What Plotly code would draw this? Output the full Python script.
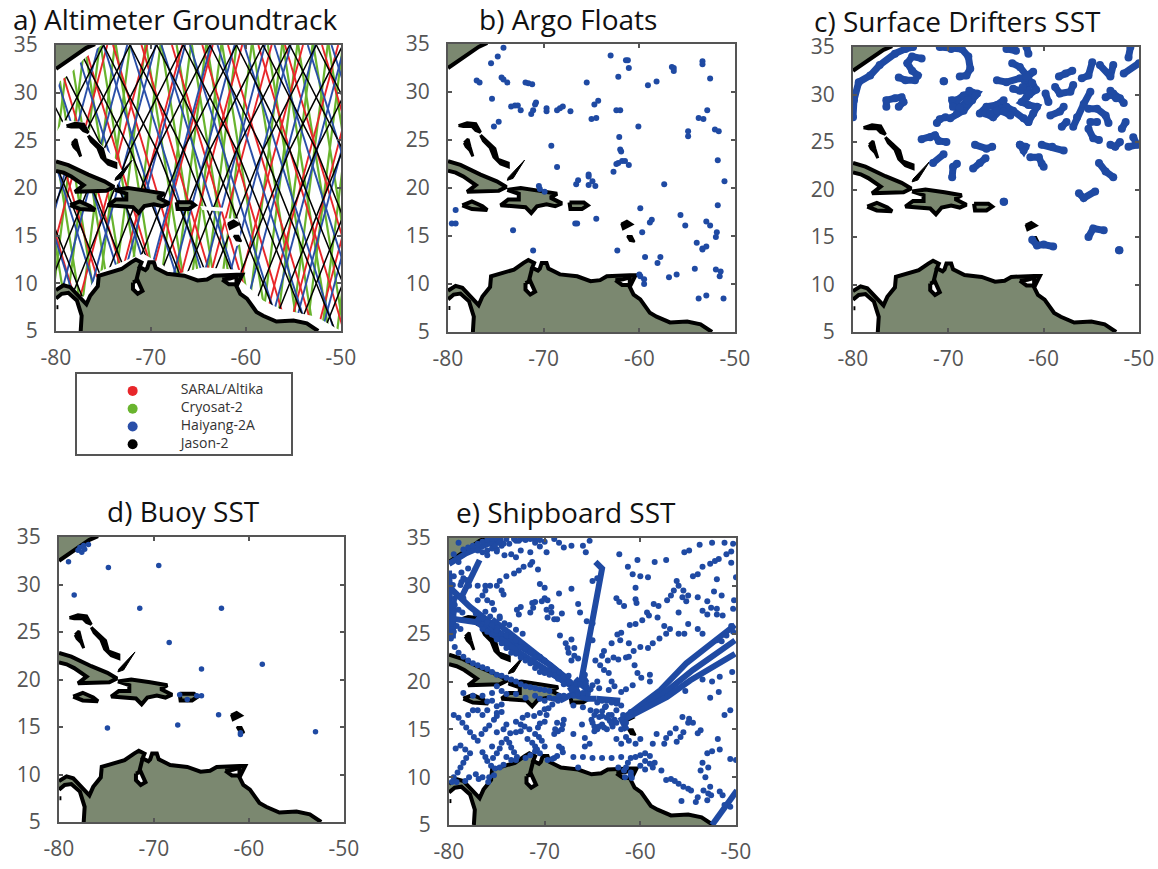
import plotly.graph_objects as go

W, H = 1158, 869
LAND = "#7b8870"
BLUE = "#1f4aa3"
FONT = "Open Sans"

# ---------- coast outlines (lon, lat) ----------
na_lon = [-80, -78.9, -77.8, -76.8, -75.9]
na_lat = [32.5, 33.3, 34.0, 34.7, 35.1]

sa_north_lon = [-80, -79.2, -78.5, -77.8, -77.1, -76.8, -76.4, -75.6, -75.5, -74.5, -73.1, -72.1, -71.6, -71.0, -71.2, -70.6, -70.4, -70.2, -69.7, -69.5, -68.3, -66.5, -65.1, -64.1, -63.4, -61.0, -60.4, -61.0, -60.6, -59.9, -58.9, -58.2, -56.8, -55.0, -53.6, -52.4]
sa_north_lat = [9.3, 9.8, 9.6, 8.9, 8.1, 7.8, 8.7, 9.7, 10.8, 11.1, 11.5, 12.2, 12.5, 12.2, 11.7, 11.4, 11.6, 12.2, 12.2, 11.6, 11.0, 10.8, 10.3, 10.4, 10.8, 10.9, 10.9, 9.7, 8.9, 8.4, 7.0, 6.6, 6.0, 6.1, 5.8, 5.0]
sa_west_lon = [-77.4, -77.3, -77.8, -78.7, -79.4, -80]
sa_west_lat = [5.0, 6.6, 8.2, 9.0, 8.9, 8.4]

cuba_lon = [-80, -78.7, -76.6, -74.9, -73.9, -74.7, -78.0, -77.1, -78.4, -79.2, -80]
cuba_lat = [22.8, 22.4, 21.4, 20.7, 20.1, 19.7, 19.6, 20.3, 21.2, 21.6, 21.8]
hisp_lon = [-73.8, -72.4, -70.4, -68.6, -69.3, -68.1, -68.8, -69.7, -70.7, -71.3, -71.9, -72.8, -74.5, -73.7, -72.6, -72.6, -73.8]
hisp_lat = [19.8, 20.0, 19.7, 19.4, 19.0, 18.4, 18.1, 18.3, 18.1, 17.4, 18.0, 18.1, 18.2, 18.8, 18.8, 19.4, 19.8]
jam_lon = [-78.5, -77.5, -76.4, -75.9, -77.5, -78.4, -78.5]
jam_lat = [18.2, 18.6, 18.1, 17.7, 17.8, 18.1, 18.2]
pr_lon = [-67.3, -65.8, -65.4, -66.0, -67.2, -67.3]
pr_lat = [18.5, 18.5, 18.2, 17.8, 17.8, 18.5]

# black blobs
gb_lon = [-78.9, -78.0, -77.1, -76.6, -77.1, -77.5, -78.4, -78.9]
gb_lat = [26.5, 26.8, 26.7, 25.8, 26.0, 26.4, 26.4, 26.5]
andros_lon = [-78.3, -77.9, -77.7, -77.4, -77.7, -78.1, -78.3]
andros_lat = [24.7, 25.1, 24.3, 23.3, 23.9, 24.3, 24.7]
chain_lon = [-76.6, -75.8, -75.1, -74.8, -73.7, -73.7, -74.5, -75.2, -75.6, -76.3, -76.6]
chain_lat = [25.5, 24.8, 24.1, 23.0, 22.6, 22.2, 22.5, 23.2, 24.2, 24.9, 25.5]
wedge_lon = [-73.8, -73.2, -72.0, -73.2, -73.7, -73.8]
wedge_lat = [20.8, 21.0, 22.9, 21.6, 21.1, 20.8]
guad_lon = [-61.9, -61.3, -60.7, -61.7, -61.9]
guad_lat = [16.3, 16.6, 16.2, 15.7, 16.3]
mart_lon = [-61.3, -60.8, -60.5, -61.0, -61.3]
mart_lat = [15.0, 15.0, 14.4, 14.5, 15.0]
dot_lon = [-79.95, -79.75]
dot_lat = [7.5, 7.5]

lake_lon = [-71.9, -71.4, -70.9, -71.4, -71.9, -71.9]
lake_lat = [10.1, 10.3, 9.2, 8.9, 9.4, 10.1]
channel_lon = [-71.2, -71.6]
channel_lat = [11.7, 10.1]
paria_lon = [-62.5, -61.7, -61.0, -61.0, -61.8, -62.5]
paria_lat = [10.4, 10.5, 10.7, 9.9, 9.9, 10.4]

# ---------- a) altimeter tracks: longitude at latitudes 35 / 24 / 5 ----------
TRACK_LAT = [35, 24, 5]
jason_asc_35 = [-77.8, -75.0, -72.2, -69.4, -66.6, -63.8, -61.0, -58.2, -55.4, -52.6, -49.8, -47.0, -44.2, -41.4, -38.6]
jason_asc_24 = [-83.4, -80.6, -77.8, -75.0, -72.2, -69.4, -66.6, -63.8, -61.0, -58.2, -55.4, -52.6, -49.8, -47.0, -44.2]
jason_asc_05 = [-91.0, -88.2, -85.4, -82.6, -79.8, -77.0, -74.2, -71.4, -68.6, -65.8, -63.0, -60.2, -57.4, -54.6, -51.8]
jason_dsc_35 = [-91.8, -89.0, -86.2, -83.4, -80.6, -77.8, -75.0, -72.2, -69.4, -66.6, -63.8, -61.0, -58.2, -55.4, -52.6, -49.8]
jason_dsc_24 = [-86.2, -83.4, -80.6, -77.8, -75.0, -72.2, -69.4, -66.6, -63.8, -61.0, -58.2, -55.4, -52.6, -49.8, -47.0, -44.2]
jason_dsc_05 = [-78.6, -75.8, -73.0, -70.2, -67.4, -64.6, -61.8, -59.0, -56.2, -53.4, -50.6, -47.8, -45.0, -42.2, -39.4, -36.6]

# red / blue / green: longitude at 35 and at 5
saral_dsc_35 = [-89.0, -86.0, -83.0, -80.2, -77.0, -74.0, -71.0, -67.8, -64.6, -61.9, -58.7, -55.9, -52.0]
saral_dsc_05 = [-80.0, -77.0, -74.0, -71.2, -68.0, -65.0, -62.0, -58.8, -55.6, -52.9, -49.7, -46.9, -43.0]
saral_asc_35 = [-74.6, -70.4, -66.7, -63.5, -60.4, -57.3, -54.0, -50.3, -47.5, -44.5, -41.5]
saral_asc_05 = [-82.6, -78.4, -74.7, -71.5, -68.4, -65.3, -62.0, -58.3, -55.5, -52.5, -49.5]
hy_dsc_35 = [-89.0, -86.5, -84.0, -81.0, -78.0, -75.0, -72.2, -68.9, -65.9, -63.0, -60.2, -57.0, -53.5, -51.0]
hy_dsc_05 = [-79.5, -77.0, -74.5, -71.5, -68.5, -65.5, -62.7, -59.4, -56.4, -53.5, -50.7, -47.5, -44.0, -41.5]
hy_asc_35 = [-75.5, -72.5, -69.5, -66.4, -63.7, -61.2, -58.0, -55.3, -52.7, -49.6, -47.0, -44.0, -41.5]
hy_asc_05 = [-83.5, -80.5, -77.5, -74.4, -71.7, -69.2, -66.0, -63.3, -60.7, -57.6, -55.0, -52.0, -49.5]
cryo_dsc_35 = [-85.0, -83.4, -81.8, -80.2, -78.6, -77.0, -75.3, -73.7, -70.5, -68.9, -67.3, -65.7, -64.1, -62.5, -59.3, -57.7, -56.1, -54.5, -52.9, -51.3]
cryo_dsc_05 = [-80.2, -78.6, -77.0, -75.4, -73.8, -72.2, -70.5, -68.9, -65.7, -64.1, -62.5, -60.9, -59.3, -57.7, -54.5, -52.9, -51.3, -49.7, -48.1, -46.5]
cryo_asc_35 = [-78.6, -77.0, -75.4, -73.8, -72.2, -70.6, -69.0, -65.8, -64.2, -62.6, -61.0, -59.4, -56.2, -54.6, -53.0, -51.4, -49.8, -48.2, -46.6]
cryo_asc_05 = [-82.4, -80.8, -79.2, -77.6, -76.0, -74.4, -72.8, -69.6, -68.0, -66.4, -64.8, -63.2, -60.0, -58.4, -56.8, -55.2, -53.6, -52.0, -50.4]

# coastal data-free zones around the land in panel a
mask_na_lon = [-80, -75.2, -77.0, -78.5, -79.6, -80]
mask_na_lat = [35, 35, 33.6, 32.0, 31.2, 30.0]
mask_bah_lon = [-80, -79.2, -77.1, -75.7, -73.6, -72.9, -73.8, -80]
mask_bah_lat = [25.8, 27.1, 26.9, 25.0, 22.9, 21.5, 19.9, 22.5]
mask_sa_lon = [-80, -77.1, -75.3, -71.8, -70.8, -68.7, -68.0, -64.5, -60.6, -60.5, -58.2, -56.4, -52.6, -50, -80]
mask_sa_lat = [9.3, 8.6, 11.3, 12.75, 13.1, 11.9, 10.8, 11.7, 11.4, 10.3, 8.2, 7.3, 6.5, 5, 5]
mask_pr_lon = [-64.8, -62.0, -62.1, -64.6]
mask_pr_lat = [18.1, 17.9, 17.5, 17.7]
mask_la_lon = [-62.2, -60.8, -60.5, -61.0, -61.8]
mask_la_lat = [16.8, 16.8, 14.2, 13.9, 15.0]

# ---------- b) Argo ----------
argo_lon = [-74.2,-74.8,-75.5,-77.0,-76.7,-74.4,-74.2,-73.8,-71.9,-71.6,-71.2,-75.4,-73.4,-73.0,-72.7,-72.4,-71.3,-71.1,-70.9,-70.8,-69.7,-69.7,-68.6,-68.3,-68.0,-67.2,-65.0,-64.5,-64.7,-64.3,-65.5,-63.0,-61.4,-61.2,-61.1,-62.2,-62.4,-62.0,-59.1,-58.2,-56.6,-56.4,-56.4,-53.4,-53.4,-52.6,-52.9,-53.8,-53.3,-60.1,-62.1,-62.0,-61.9,-54.9,-54.9,-52.1,-51.7,-69.2,-74.7,-75.2,-68.6,-62.7,-62.2,-61.8,-61.5,-61.1,-62.4,-51.8,-65.3,-65.3,-66.4,-66.6,-65.3,-64.9,-64.6,-70.5,-70.4,-69.9,-57.4,-51.1,-51.8,-79.2,-79.6,-79.2,-66.7,-66.5,-64.5,-59.9,-59.7,-58.9,-58.7,-55.7,-55.2,-53.0,-52.6,-51.9,-52.0,-73.2,-71.1,-62.3,-54.0,-53.4,-53.4,-53.0,-59.4,-57.8,-58.1,-56.9,-56.1,-54.2,-52.0,-51.5,-51.6,-60.0,-59.9,-59.5,-59.5,-53.8,-53.0,-51.2]
argo_lat = [34.6,33.7,33.0,31.2,31.0,31.5,31.3,31.0,31.0,30.9,30.8,29.3,28.5,28.6,28.6,28.1,27.7,28.1,28.7,28.9,28.3,28.0,28.1,28.3,28.5,28.0,27.2,27.3,28.7,29.1,31.0,33.8,33.3,33.3,32.5,31.6,28.1,28.1,30.7,31.1,32.6,32.5,32.2,33.2,32.9,31.4,28.1,27.3,27.2,26.4,25.3,24.0,23.8,25.9,25.4,26.1,25.9,24.4,26.9,26.4,22.2,21.7,22.6,22.8,22.8,22.4,22.5,22.9,21.4,21.2,20.8,20.4,20.3,20.7,20.2,20.2,19.9,19.6,20.4,20.7,18.2,17.7,16.3,16.3,16.3,16.3,16.8,17.9,15.4,16.4,16.7,17.2,16.1,16.5,16.1,15.4,14.9,15.6,13.5,13.5,14.3,13.7,13.6,13.9,12.8,12.8,12.2,10.7,11.0,11.6,11.5,11.3,10.8,11.0,10.8,10.5,10.0,8.5,8.8,8.5]

# ---------- c) drifters: one [lons], [lats] pair per drifter ----------
drifter_lon = [
 [-80,-79.9,-79.4,-78.2,-77.2,-75.6,-74.5,-73.7],
 [-72.8,-73.8,-74.3,-73.8,-73.2,-73.5,-74.5,-75.2],
 [-76.5,-76.5,-75.6,-74.9,-74.7,-75.2],
 [-70.5,-70.45],
 [-71.2,-70.9,-70.3],
 [-69.8,-69.1,-68.4,-67.5,-67.0,-67.5,-68.4,-69.1,-69.6,-69.5,-68.6,-68.1],
 [-66.7,-66.0,-64.9,-64.2,-64.4,-65.3,-66.1],
 [-64.4,-63.9,-63.2,-62.1,-61.6],
 [-61.6,-61.1,-60.7,-61.6,-62.3,-61.8],
 [-70.9,-69.7,-68.6,-67.9,-67.7,-68.1,-68.8],
 [-63.9,-62.9],
 [-61.8,-61.6],
 [-63.3,-62.5,-61.8,-61.1,-62.0,-61.6,-62.5,-63.2],
 [-64.9,-63.9,-62.5],
 [-59.8,-59.5],
 [-59.3,-58.3,-57.9],
 [-58.4,-57.7,-57.0],
 [-58.8,-58.3,-57.2,-56.9],
 [-56.0,-55.3,-54.9],
 [-54.1,-53.0,-52.7],
 [-51.6,-50.0],
 [-50.9,-51.1],
 [-56.9,-56.5,-55.8,-55.1],
 [-58.1,-57.6],
 [-53.5,-52.7,-52.0,-51.6],
 [-55.3,-54.4,-53.5,-53.2],
 [-55.1,-54.4],
 [-55.3,-54.8,-54.2],
 [-51.8,-51.4],
 [-53.0,-52.5,-52.0],
 [-50.6,-50.2,-51.1],
 [-72.8,-71.9,-71.4,-71.0,-70.2],
 [-71.6,-70.5],
 [-69.6,-69.5,-69.1],
 [-67.4,-66.7,-66.1],
 [-67.2,-66.0,-65.4],
 [-62.5,-61.9,-62.1,-62.5],
 [-61.4,-60.5,-60.2,-60.0],
 [-60.2,-59.1,-57.9],
 [-54.2,-53.5,-52.7],
 [-56.3,-55.8,-54.6],
 [-55.3,-54.8,-53.7],
 [-64.2,-64.15],
 [-52.1,-52.05],
 [-61.2,-60.7,-60.0,-59.0],
 [-61.8,-61.2,-60.8,-61.5,-62.2],
 [-68.8,-68.0,-67.2,-67.8],
 [-65.6,-64.9,-64.2,-63.5],
 [-52.9,-52.4,-53.0],
]
drifter_lat = [
 [27.6,29.4,31.3,32.0,33.1,34.3,34.8,35.0],
 [33.8,34.0,33.3,32.5,32.0,31.5,31.5,31.8],
 [28.7,29.4,29.6,29.7,29.2,28.7],
 [31.4,31.4],
 [27.0,27.4,27.6],
 [27.5,28.0,28.3,29.4,30.1,30.2,29.9,29.4,29.4,28.7,28.7,29.0],
 [28.0,28.7,28.9,29.4,28.5,27.6,28.0],
 [28.5,28.7,28.3,27.5,27.1],
 [27.1,28.0,28.7,28.9,29.2,29.7],
 [35.0,34.8,34.8,34.0,32.7,32.0,31.9],
 [34.8,34.6],
 [35.0,34.3],
 [33.3,32.9,32.0,32.4,31.5,30.4,30.4,30.6],
 [31.5,31.3,31.7],
 [30.1,29.2],
 [27.8,28.2,28.7],
 [31.9,32.2,32.5],
 [30.8,30.1,30.3,31.0],
 [31.7,32.0,33.4],
 [33.1,31.9,33.1],
 [32.2,33.3],
 [35.0,33.9],
 [26.6,27.6,29.0,30.3],
 [26.6,27.1],
 [29.7,30.1,29.6,29.1],
 [28.5,28.5,27.8,27.0],
 [27.1,27.1],
 [26.4,25.4,25.2],
 [26.4,27.1],
 [24.7,24.5,25.0],
 [25.5,24.7,24.5],
 [25.3,25.5,25.7,25.1,25.0],
 [22.8,23.7],
 [21.3,22.4,22.7],
 [22.2,22.8,23.3],
 [24.7,24.3,24.5],
 [24.7,24.5,24.1,24.7],
 [23.4,23.4,22.7,22.4],
 [24.7,24.5,24.1],
 [22.8,21.9,21.3],
 [19.6,19.1,19.8],
 [15.0,15.9,15.7],
 [18.7,18.7],
 [13.6,13.6],
 [14.7,14.1,14.2,14.0],
 [31.8,31.2,30.5,30.0,30.8],
 [28.6,29.4,29.9,30.4],
 [28.0,28.3,28.2,27.8],
 [30.0,29.6,30.4],
]

# ---------- d) buoys ----------
buoy_lon = [-79.0,-78.4,-74.8,-69.5,-71.5,-62.9,-68.4,-65.0,-58.6,-67.3,-66.5,-65.5,-65.0,-63.2,-67.5,-74.9,-60.9,-60.9,-53.0,-78.0,-77.6,-77.8,-77.4,-76.9,-77.3]
buoy_lat = [32.4,28.9,31.8,32.0,27.5,27.5,23.9,21.1,21.6,18.4,17.9,18.3,18.3,16.3,15.2,14.9,14.2,14.4,14.5,33.6,33.4,33.9,34.1,34.2,33.7]

# ---------- e) shipboard: dense lanes + isolated reports ----------
lane_lon = [
 [-66.3,-64.0,-64.7],
 [-79.9,-77.1,-73.6,-70.5,-67.0],
 [-77.1,-73.3,-69.4,-66.7],
 [-75.5,-72.0,-67.5],
 [-76.0,-72.5,-68.0],
 [-62.0,-57.9,-55.2,-50.1],
 [-62.0,-57.6,-54.5,-50.1],
 [-61.8,-57.2,-54.8,-50.1],
 [-52.5,-49.9],
 [-80.0,-79.9,-80.0,-80.0],
 [-79.6,-79.5],
 [-78.7,-76.8],
 [-80.0,-78.2,-75.9,-74.3],
 [-80.0,-77.8,-74.7],
 [-68.4,-66.3],
 [-64.6,-62.1],
 [-62.1,-61.4],
 [-67.0,-65.5,-64.6],
 [-67.5,-65.5],
 [-66.8,-65.2],
]
lane_lat = [
 [19.4,31.8,32.5],
 [26.6,26.2,23.6,21.7,19.4],
 [26.8,24.1,21.7,19.4],
 [26.5,23.8,20.2],
 [25.6,22.9,20.0],
 [16.0,19.1,21.9,25.9],
 [16.0,18.7,21.2,24.3],
 [16.0,18.4,20.1,22.9],
 [5.0,8.6],
 [31.6,29.5,27.1,24.6],
 [24.5,28.5],
 [28.8,32.7],
 [32.3,33.4,34.4,34.8],
 [29.9,27.8,25.4],
 [18.0,19.1],
 [18.2,18.0],
 [16.3,14.9],
 [18.6,18.2,18.2],
 [19.0,20.3],
 [20.3,18.8],
]
ship_lon = [-72,-71,-70,-69,-68.5,-68,-67.2,-66,-65.3,-65.7,-70.5,-69.8,-71.5,-72.5,-73,-73.5,-74.2,-71.3,-70.7,-71.5,-72.2,-72.7,-73.2,-74,-74.7,-75,-74.5,-74.3,-75.7,-76.2,-77,-76.2,-76.5,-77,-76,-75.5,-75.3,-74.7,-70.5,-70,-70,-70.3,-71,-71.3,-71.5,-71.2,-69.7,-69.3,-69.8,-69.7,-69,-68.7,-69.3,-72.5,-72.9,-72.7,-68.5,-67.2,-68.2,-66.5,-66.3,-65.6,-65,-68.4,-67.8,-67.6,-67.2,-66.9,-67.5,-66.9,-67.2,-66.5,-65,-64.5,
 -62.2,-60.3,-58.5,-57.3,-61.3,-60.8,-60,-59.2,-60.5,-60.5,-60.4,-62.5,-62.2,-61.7,-58.6,-58.1,-59.3,-59.1,-59.8,-60.5,-61.1,-58.2,-57.5,-56.9,-57.3,-58,-58.7,-59.2,-60,-60.7,-61.2,-62.1,-62.4,-62,-63,-63.8,-64,-63.4,-62.8,-62.3,-61.5,-61.2,-60.6,-65,-64.7,-64.2,-63.8,-63.3,-63,-64.5,-65,-64.3,-63.3,-62.7,-62,-61.5,-60.8,-59.9,-59,-60.3,-59,
 -55.4,-54.9,-53.8,-52.5,-51.2,-50.3,-50.5,-51,-50.5,-51.8,-52.2,-52.7,-53.5,-54,-54.5,-52,-50,-56.2,-56,-56.5,-55.5,-55,-56.8,-57.2,-55.6,-55.2,-54,-53,-52.3,-51.5,-50.2,-50.3,-53.5,-52.6,-52,-52,-51.4,-53,-56,-55,-54,-53.5,-55.4,-56,-52,-51.5,-51,-50.5,-50.3,-50.4,-51.7,-52.5,-53.5,-55.3,-51.8,-52.7,-50.6,-51.2,-55.6,-54.9,-55,-54.5,-56.3,-53.7,-54,-55.5,-55.8,-56.2,-56.9,-57.3,-57.5,-58.3,-51.9,-52.5,-53,-51.7,-50.6,-50,-53.5,-52.9,-53.7,-53.2,
 -56.8,-56.4,-56,-55.5,-55,-54.7,-52.7,-53.4,-52.9,-52.6,-54.2,-54,-53,-51.7,-51.4,-50.6,-51.2,-55.7,
 -79.5,-79,-78.6,-78.2,-77.8,-77.4,-77,-76.6,-76.2,-75.8,-75.3,-75,-77.8,-78.2,-78.5,-78.8,-79.1,-79.7,-79.5,-79.2,-78.3,-77.9,-76.5,-76.2,-76,-75.6,-75.2,-75.4,-75,-74.7,-74.5,-74,-73.7,-73.5,-73.2,-72.9,-74.3,-75,-75.5,-74,-73.5,-73,-72,-71.5,-71,-70.5,-76.5,-76.9,-77.2,-75.8,-75.9,-75.3,-74.7,-74.3,-76,-76.5,-77,-77.5,-78,-76,-75.5,-75,-74.5,-74.5,-75,
 -74,-73,-72.5,-72.1,-71.6,-71,-70.6,-70.3,-70,-72.5,-73,-73.6,-71.8,-71.3,-71,-70.8,-72.3,-71.8,-71.1,-70.5,-70,-69.6,-69.2,-68.6,-69.8,-70,-70.5,-70.7,-69,-68.6,-68.2,-68.1,-68,-68.7,-68.9,-68.5,-68.2,-68.1,-68.7,-69,-69.2,-69.7,
 -67,-66,-65,-64,-66.5,-65.8,-65.3,-65.8,-64.8,-67,-66.1,-65.1,-64.8,-64.5,-64,-64.3,-65.2,-66,-67,-64.6,-64,-63.6,-63.3,-62.7,-62,-62.9,-63.5,-63.2,-62.5,-62,-61.5,-61.2,-60.5,-60,-60,-59.5,-59,-59.5,-60,-58.7,-58.5,-59,-59.5,-60.5,-61,-61.3,-61.5,-61.7,-61,-61.6,-60.9,-61,-63,-62,-62.3,-57.8,-57.3,-58.7,-78.8,-78.3,-79.3,
 -79.8,-79.4,-79,-78.5,-78,-77.5,-77,-76.5,-76,-75.5,-75,-74.5,-74,-73.5,-73,-72.5,-72,-71.5,-71,-70.5,-70,-69.5,-78.5,-77.5,-76.5,-75.5,-75,-74.5,-74,-73,-72,-71,-70.5,-70,-69.5,-69,-68.5,-68,
 -77.2,-76.7,-76.2,-75.7,-75.2,-74.7,-74.2,-73.7,-73,-72.3,-78.5,-78,-77,-76,-75,-79,-79.5,-78.7,-74.5,-74,-73,-72.5,-71.5,-71,-70.5,
 -76.5,-76,-75.5,-75,-74.5,-74,-73.5,-73,-72.5,-72,-71.5,-71,-70.5,-70,-69.5,-69,-68.5,-68,-67.5,-67.5,-68,-68.6,-69.5,-70,-70.5,-71,-71.5,-72,-72.5,-73,-73.5,-74,-74.5,-75,-75.5,-76,-76.5,
 -78.5,-78,-77.5,-77,-76.5,-76,-75.5,-75,-74.5,-74.3,-75,-75.5,-76,-76.5,-74.8,-75.2,-73.7,-73.2,-72.7,-79,-78.7,-78.2,-77.9,-79.5,-79.6,-78.8,-78.5,-79.4,-79,-79.5,-78.6,-79.6,-79.2,-78.8,-79.5,-79.7,-79.4,
 -67,-66.5,-66.7,-66,-65.7,-65.2,-65.5,-66,-66.3,-65.8,-65.6,-62,-62.5,-63,-63.5,-64,-61.5,-61.8,-61,
 -64.5,-63.7,-63,-62.5,-64,-63.5,-64.8,-65,-64.3,-63.8,-63,-62.5]
ship_lat = [34.8,34.8,34.6,34.9,34.5,34,34.2,34.2,34.7,33.5,34.1,33.5,33.5,33.7,33,33.3,33.2,32.5,31.7,32.2,32,31.6,31.3,31,30.5,30,29.5,29.1,30,30,30,29.5,29,28.5,28.5,28.2,27.5,26.8,30.2,29.8,28.7,28.4,28.3,28.2,27.2,27.7,28.5,27.8,27.5,26.7,26.5,26.5,27.2,27.8,27.5,27,29.2,29.7,27.1,28.1,27.2,26.3,26.1,24.8,24,23.5,24.4,23.5,23,22.7,22.2,22.4,30.5,30.8,
 33.3,32.7,32.5,32.7,32,31.2,31,30.9,29.8,28.6,28.2,28.7,28.3,27.9,28.1,27.9,27.2,26.9,26.4,26,25.9,26.7,25.8,25.5,25,24.5,24,23.5,23.6,23.2,24,24.3,24.9,25.1,24,23.2,22.7,22.2,22.5,22.3,22.5,22.6,21.7,24.3,22.2,21.7,21.2,20.9,20,20,19.6,19.3,19.1,19.5,18.9,19.2,19.6,20.4,20.7,20.9,20,
 33.5,33.7,34.3,34.5,34.5,34.4,33.6,33.3,32.4,32.8,32.6,32.3,32,31.2,31,30.7,30.9,30.5,30,29.5,29.5,29,29,28.5,28.8,28.4,28.8,28.4,29.4,29,28.5,27.6,27.4,27.7,27.6,27,26.9,27,27.2,26,25.5,25,25,25,24.3,24.2,24.8,25.8,25.2,21,20.5,20,20.2,19,18.9,18.3,17,16.5,16.3,16.1,15.7,15.7,15.1,14.9,14.6,14.7,14.2,13.7,14.6,14.1,13.5,14.5,14,12.7,12.5,12.9,11.9,11.8,11.5,11,10.7,10,
 9.8,9.6,9.3,9,8.8,8.6,9,8.6,8.3,8.1,7.4,7.9,7.6,8.5,8.1,6.9,7.1,7.5,
 16.5,16.2,15.7,15.2,14.7,14.2,13.8,14.5,15,15.4,16,16.4,12.5,12,11.5,11,10.5,9.5,10,9.5,9.6,10,12.6,12.1,11.7,11.2,10.9,12,12.5,13,13.6,14,13.6,13.1,12.6,12.1,15,14.7,13.2,12.1,11.8,11.8,12,12.3,12.7,12.5,10,9.8,10.3,10,9.5,10.2,11,11.3,17,16.5,17,17,16.5,17.9,18,17.4,17.6,16.8,16.7,
 15.5,15.8,15.5,15.3,15,14.5,14.2,13.8,13.2,14.8,14.7,14.6,14,13.6,13.2,12.9,16.2,16.5,16.4,16.7,17.1,17.2,17.6,18,16.5,15.8,15.6,15.2,14.5,14.8,15,15.5,16,15.7,15,13.2,13,12.6,12.2,12,11.9,11.8,
 12.1,12.1,12,12,11,13.2,13.5,14.1,14.8,14.5,15.5,16,15.3,15,15.5,16.3,17,17.3,17.5,16.9,16.9,17.4,16.5,16,15,15.3,15,15.9,14,13.5,14.2,13.8,13.5,14,12.3,12.5,12.2,11.7,11.2,11,11.5,11.4,10.8,12.1,12,11.5,11,10.7,10.5,10,9.9,10.2,12,12.1,11,10.7,9.7,13.5,13.3,12.9,13,
 24.5,23.6,23,22.6,22.2,21.9,21.7,21.5,21.3,21,20.7,20.6,20.4,20.2,20,19.7,19.5,19.4,19.3,19.2,19.1,19,18.8,18.5,18.5,18.8,19.5,19,18.7,18.7,18.3,18.5,18.2,18,18.3,18.2,18.5,18.5,
 27.1,26.6,27.3,26.8,26.2,26.6,26.1,25.9,25.4,25.0,30.8,31.8,33.7,33.2,33.6,34.5,33.3,30.4,34.4,34.9,34.7,34.9,34.9,34.5,34.8,
 26.6,26.2,25.9,25.3,25,24.8,24.7,24.3,23.6,23.4,23.1,22.5,22.6,22.2,21.2,21.2,21,20.5,20.6,19.9,19.7,20.3,20.7,20.9,21,21.4,21.9,22.2,22.5,22.9,23,23.5,24,24.4,24.9,25.2,25.5,
 33.8,34,34.2,34.4,34.6,34.8,34.9,34.9,34.2,34.4,33.8,33.9,33.7,33.5,34.5,34.2,34.4,34.9,34.7,32.5,31.4,30.6,30,31,30.1,30.1,28.7,28.7,27.5,27.3,27.2,26,25.8,25.5,25.2,24.8,28,
 18.5,18.7,19.8,20.2,19.8,19.2,18.7,18.8,19.7,20.7,19.4,17.5,17.7,17.8,18,18,15.7,16.5,16.8,
 17.8,17.3,16.5,17,16.4,16.2,16.5,15.7,15.3,15.2,15.6,15.7]

tick_x = [-80, -70, -60, -50]
tick_x_text = ["-80", "-70", "-60", "-50"]
tick_y = [5, 10, 15, 20, 25, 30, 35]

legend_names = ["SARAL/Altika", "Cryosat-2", "Haiyang-2A", "Jason-2"]
legend_colors = ["#e8262a", "#69b42e", "#2a4fa8", "#000000"]
legend_rows = [3.55, 2.55, 1.55, 0.55]

titles = ["a) Altimeter Groundtrack", "b) Argo Floats", "c) Surface Drifters SST", "d) Buoy SST", "e) Shipboard SST"]

# pixel layout
panels = [(56, 341, 45, 331), (448, 735, 44, 332), (853, 1139, 47, 332), (59, 344, 537, 822), (449, 736, 538, 825)]
title_pos = [(175, 19), (568, 19), (957, 21), (183, 511), (566, 512)]
legend_box = (77, 291, 374, 454)


def join(lon_lists, lat_lists):
    xs, ys = [], []
    for a, b in zip(lon_lists, lat_lists):
        xs += list(a) + [None]
        ys += list(b) + [None]
    return xs, ys


def add_coast(fig, ax, ay):
    kw = dict(xaxis=ax, yaxis=ay, hoverinfo="skip", showlegend=False)
    for lons, lats in [(na_lon + [-80], na_lat + [35]),
                       (sa_north_lon + sa_west_lon, sa_north_lat + sa_west_lat),
                       (cuba_lon, cuba_lat), (hisp_lon, hisp_lat), (jam_lon, jam_lat), (pr_lon, pr_lat)]:
        fig.add_trace(go.Scatter(x=lons, y=lats, fill="toself", fillcolor=LAND, mode="none", **kw))
    for lons, lats in [(lake_lon, lake_lat), (paria_lon, paria_lat)]:
        fig.add_trace(go.Scatter(x=lons, y=lats, fill="toself", fillcolor="white", mode="none", **kw))
    for lons, lats, wd in [(gb_lon, gb_lat, 3), (andros_lon, andros_lat, 3), (chain_lon, chain_lat, 3),
                           (wedge_lon, wedge_lat, 1), (guad_lon, guad_lat, 2), (mart_lon, mart_lat, 2)]:
        fig.add_trace(go.Scatter(x=lons, y=lats, fill="toself", fillcolor="black", mode="lines",
                                 line=dict(color="black", width=wd), **kw))
    xs, ys = join([na_lon, sa_north_lon, sa_west_lon, cuba_lon, hisp_lon, jam_lon, pr_lon, lake_lon, channel_lon, paria_lon, dot_lon],
                  [na_lat, sa_north_lat, sa_west_lat, cuba_lat, hisp_lat, jam_lat, pr_lat, lake_lat, channel_lat, paria_lat, dot_lat])
    fig.add_trace(go.Scatter(x=xs, y=ys, mode="lines", line=dict(color="black", width=4), **kw))


fig = go.Figure()

def tracks3(a, b, c):
    xs, ys = [], []
    for p, q, r in zip(a, b, c):
        xs += [p, q, r, None]
        ys += TRACK_LAT + [None]
    return xs, ys

def tracks2(a, c):
    xs, ys = [], []
    for p, r in zip(a, c):
        xs += [p, r, None]
        ys += [35, 5, None]
    return xs, ys

for name, col, wd, sets in [("Cryosat-2", legend_colors[1], 2.2, [(cryo_dsc_35, cryo_dsc_05), (cryo_asc_35, cryo_asc_05)]),
                            ("SARAL/Altika", legend_colors[0], 1.9, [(saral_dsc_35, saral_dsc_05), (saral_asc_35, saral_asc_05)]),
                            ("Haiyang-2A", legend_colors[2], 1.9, [(hy_dsc_35, hy_dsc_05), (hy_asc_35, hy_asc_05)])]:
    xs, ys = [], []
    for a, c in sets:
        u, v = tracks2(a, c)
        xs += u
        ys += v
    fig.add_trace(go.Scatter(x=xs, y=ys, mode="lines", line=dict(color=col, width=wd), name=name,
                             showlegend=False, xaxis="x", yaxis="y"))
xs, ys = tracks3(jason_asc_35, jason_asc_24, jason_asc_05)
u, v = tracks3(jason_dsc_35, jason_dsc_24, jason_dsc_05)
fig.add_trace(go.Scatter(x=xs + u, y=ys + v, mode="lines", line=dict(color="black", width=1.5), name="Jason-2",
                         showlegend=False, xaxis="x", yaxis="y"))
for lons, lats in [(mask_na_lon, mask_na_lat), (mask_bah_lon, mask_bah_lat), (mask_sa_lon, mask_sa_lat),
                   (mask_pr_lon, mask_pr_lat), (mask_la_lon, mask_la_lat)]:
    fig.add_trace(go.Scatter(x=lons, y=lats, fill="toself", fillcolor="white", mode="none", hoverinfo="skip",
                             showlegend=False, xaxis="x", yaxis="y"))
add_coast(fig, "x", "y")

add_coast(fig, "x2", "y2")
fig.add_trace(go.Scatter(x=argo_lon, y=argo_lat, mode="markers", marker=dict(color=BLUE, size=6), name="Argo",
                         showlegend=False, xaxis="x2", yaxis="y2"))
add_coast(fig, "x3", "y3")
xs, ys = join(drifter_lon, drifter_lat)
fig.add_trace(go.Scatter(x=xs, y=ys, mode="lines+markers", line=dict(color=BLUE, width=7), marker=dict(color=BLUE, size=8),
                         name="Drifters", showlegend=False, xaxis="x3", yaxis="y3"))
add_coast(fig, "x4", "y4")
fig.add_trace(go.Scatter(x=buoy_lon, y=buoy_lat, mode="markers", marker=dict(color=BLUE, size=5.5), name="Buoy",
                         showlegend=False, xaxis="x4", yaxis="y4"))
add_coast(fig, "x5", "y5")
xs, ys = join(lane_lon, lane_lat)
fig.add_trace(go.Scatter(x=xs, y=ys, mode="lines", line=dict(color=BLUE, width=6), name="Lanes",
                         showlegend=False, xaxis="x5", yaxis="y5"))
fig.add_trace(go.Scatter(x=ship_lon, y=ship_lat, mode="markers", marker=dict(color=BLUE, size=6), name="Ship",
                         showlegend=False, xaxis="x5", yaxis="y5"))

for nm, col, row in zip(legend_names, legend_colors, legend_rows):
    fig.add_trace(go.Scatter(x=[0.26], y=[row], mode="markers", marker=dict(color=col, size=10), name=nm,
                             showlegend=False, xaxis="x6", yaxis="y6"))
    fig.add_trace(go.Scatter(x=[0.485], y=[row], mode="text", text=[nm], textposition="middle right",
                             textfont=dict(family=FONT, size=14, color="#333333"), hoverinfo="skip",
                             showlegend=False, xaxis="x6", yaxis="y6"))

layout = dict(width=W, height=H, margin=dict(l=0, r=0, t=0, b=0, autoexpand=False), paper_bgcolor="white", plot_bgcolor="white",
              font=dict(family=FONT, color="#555555"), showlegend=False)
annotations = []
for i, (p, t, tp) in enumerate(zip(panels, titles, title_pos)):
    L, R, T, B = p
    sfx = "" if i == 0 else str(i + 1)
    common = dict(showgrid=False, zeroline=False, showline=True, mirror="ticks", linecolor="#555555", linewidth=2,
                  ticks="inside", ticklen=4, tickwidth=1.5, tickcolor="#555555", automargin=False,
                  tickfont=dict(family=FONT, size=21, color="#555555"))
    layout["xaxis" + sfx] = dict(domain=[L / W, R / W], range=[-80, -50], tickvals=tick_x, ticktext=tick_x_text, anchor="y" + sfx,
                                 ticklabelstandoff=7, **common)
    layout["yaxis" + sfx] = dict(domain=[1 - B / H, 1 - T / H], range=[5, 35], tickvals=tick_y, anchor="x" + sfx,
                                 ticklabelstandoff=12, **common)
    annotations.append(dict(text=t, x=tp[0] / W, y=1 - tp[1] / H, xref="paper", yref="paper", xanchor="center",
                            yanchor="middle", showarrow=False, font=dict(family=FONT, size=28, color="#111111")))
lx0, lx1, ly0, ly1 = legend_box
layout["xaxis6"] = dict(domain=[lx0 / W, lx1 / W], range=[0, 1], showticklabels=False, ticks="", showgrid=False, automargin=False,
                        zeroline=False, showline=True, mirror=True, linecolor="#555555", linewidth=2, anchor="y6")
layout["yaxis6"] = dict(domain=[1 - ly1 / H, 1 - ly0 / H], range=[0, 4.5], showticklabels=False, ticks="", showgrid=False, automargin=False,
                        zeroline=False, showline=True, mirror=True, linecolor="#555555", linewidth=2, anchor="x6")
layout["annotations"] = annotations
fig.update_layout(**layout)

fig.write_html("out.html", config={"displayModeBar": False}, post_script="document.body.style.margin='0';")
